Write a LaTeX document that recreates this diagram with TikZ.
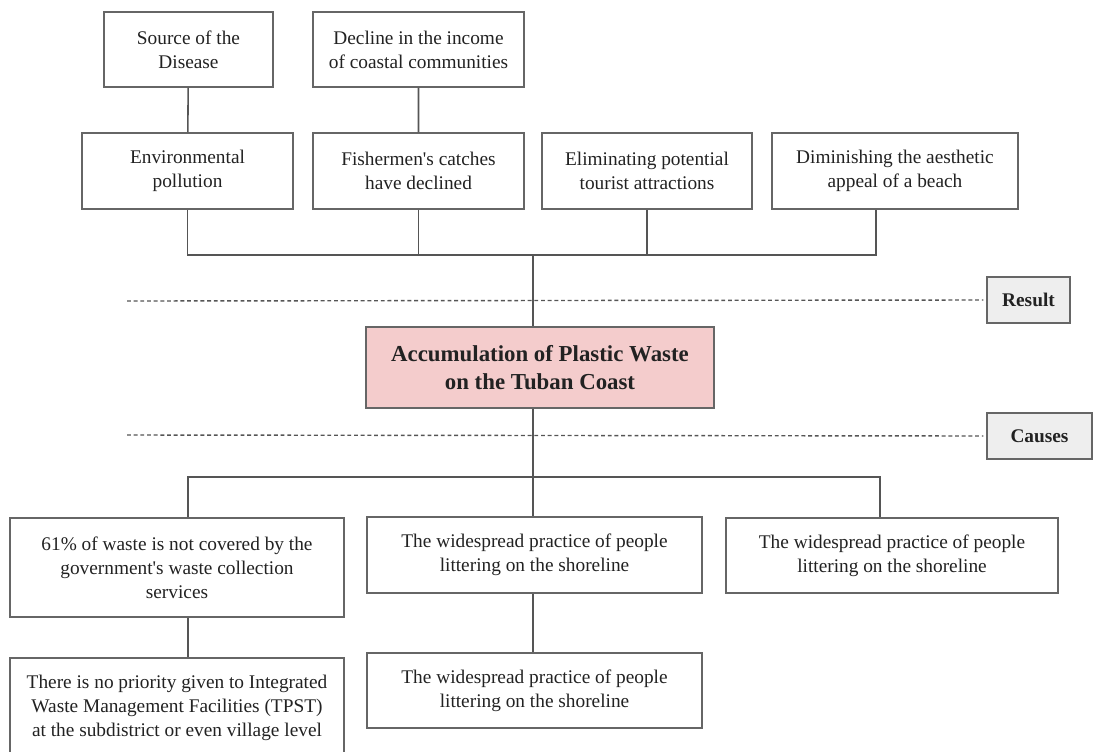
\documentclass[tikz,border=0pt]{standalone}
\usepackage{fontspec}
\setmainfont{Liberation Serif}[Ligatures=TeXOff]
\definecolor{boxline}{HTML}{666666}
\definecolor{connline}{HTML}{555555}
\definecolor{txt}{HTML}{222222}
\definecolor{pinkfill}{HTML}{F4CCCC}
\definecolor{greyfill}{HTML}{EEEEEE}
\begin{document}
\begin{tikzpicture}[scale=0.2]
\tikzstyle{every node}+=[inner sep=0pt, text=txt, font=\fontsize{11}{13.6}\selectfont]
\tikzstyle{box}=[draw=boxline, line width=0.8pt, align=center, fill=white]
\tikzstyle{conn}=[connline, line width=0.9pt]
\tikzstyle{sep}=[connline, line width=0.8pt, dash pattern=on 2.2pt off 1.6pt]
\useasboundingbox (0,0) rectangle (109.4,-75.1);

% results
\node [box, minimum width=3.38cm, minimum height=1.5cm] (source) at (18.85,-4.95) {Source of the\\Disease};
\node [box, minimum width=4.22cm, minimum height=1.5cm] (decline) at (41.85,-4.95) {Decline in the income\\of coastal communities};
\node [box, minimum width=4.22cm, minimum height=1.52cm] (env) at (18.75,-17.1) {Environmental\\pollution};
\node [box, minimum width=4.22cm, minimum height=1.52cm] (fish) at (41.85,-17.1) {Fishermen's catches\\have declined};
\node [box, minimum width=4.2cm, minimum height=1.52cm] (elim) at (64.7,-17.1) {Eliminating potential\\tourist attractions};
\node [box, minimum width=4.92cm, minimum height=1.52cm] (dimin) at (89.5,-17.1) {Diminishing the aesthetic\\appeal of a beach};

% main problem
\node [box, fill=pinkfill, minimum width=6.96cm, minimum height=1.62cm, font=\fontsize{13}{15.7}\selectfont\bfseries] (waste) at (54,-36.75) {Accumulation of Plastic Waste\\on the Tuban Coast};
\node [box, fill=greyfill, minimum width=1.66cm, minimum height=0.92cm, font=\fontsize{11}{13.6}\selectfont\bfseries] (result) at (102.85,-30) {Result};
\node [box, fill=greyfill, minimum width=2.1cm, minimum height=0.92cm, font=\fontsize{11}{13.6}\selectfont\bfseries] (causes) at (103.95,-43.6) {Causes};

% causes
\node [box, minimum width=6.68cm, minimum height=1.98cm] (govt) at (17.7,-56.75) {61\% of waste is not covered by the\\government's waste collection\\services};
\node [box, minimum width=6.7cm, minimum height=1.52cm] (litter) at (53.45,-55.5) {The widespread practice of people\\littering on the shoreline};
\node [box, minimum width=6.64cm, minimum height=1.5cm] (litterb) at (89.2,-55.55) {The widespread practice of people\\littering on the shoreline};
\node [box, minimum width=6.68cm, minimum height=1.98cm] (tpst) at (17.7,-70.75) {There is no priority given to Integrated\\Waste Management Facilities (TPST)\\at the subdistrict or even village level};
\node [box, minimum width=6.7cm, minimum height=1.5cm] (litterc) at (53.45,-69.05) {The widespread practice of people\\littering on the shoreline};

% separators
\draw [sep] (12.7,-30.1) -- ([xshift=-0.3cm]result.west);
\draw [sep] (12.7,-43.5) -- ([xshift=-0.3cm]causes.west);

% upper tree
\coordinate (t0) at (53.3,-25.5);
\coordinate (t1) at (87.6,-25.5);
\draw [conn] (source) -- (env);
\draw [conn] (decline) -- (fish);
\draw [conn] (env.south) |- (t1) -- (t1 |- dimin.south);
\draw [conn] (fish.south) -- (fish.south |- t0);
\draw [conn] (elim.south) -- (elim.south |- t0);
\draw [conn] (t0) -- (t0 |- waste.north);

% lower tree
\coordinate (b0) at (53.3,-47.7);
\coordinate (b1) at (18.8,-47.7);
\coordinate (b2) at (88,-47.7);
\draw [conn] (b0 |- waste.south) -- (b0);
\draw [conn] (b1 |- govt.north) |- (b2) -- (b2 |- litterb.north);
\draw [conn] (b0) -- (b0 |- litter.north);
\draw [conn] (b1 |- govt.south) -- (b1 |- tpst.north);
\draw [conn] (b0 |- litter.south) -- (b0 |- litterc.north);
\end{tikzpicture}
\end{document}
